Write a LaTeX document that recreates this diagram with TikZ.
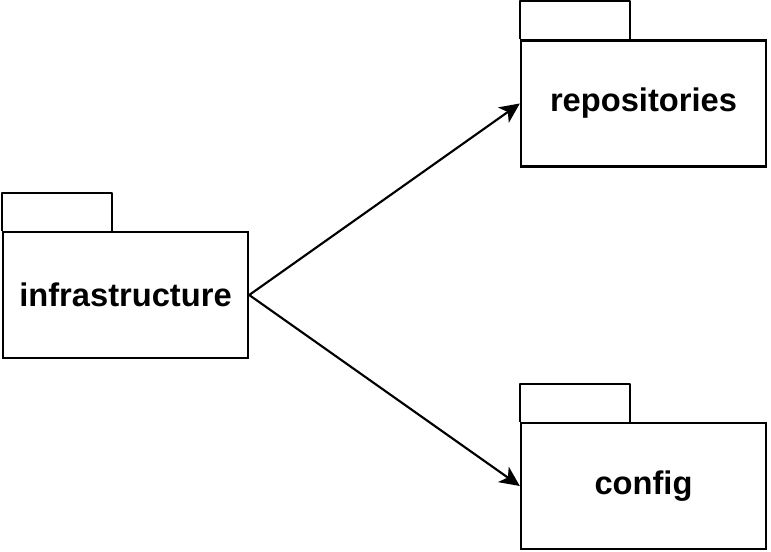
\documentclass[tikz,border=0pt]{standalone}
\usepackage{fontspec}
\setmainfont{Liberation Sans}
\usepackage{tikz}
\usetikzlibrary{arrows.meta}
\tikzset{pkg/.style={draw, line width=1.8pt, minimum width=183.75pt, minimum height=94.5pt, inner sep=0pt, font=\fontsize{24.5}{28}\selectfont\bfseries}}

\begin{document}
\begin{tikzpicture}[x=0.75pt, y=-0.75pt]
			\useasboundingbox(0, 0) rectangle (771, 552);
			\node[pkg](infra)at(125.5, 295){infrastructure};
			\node[pkg](repos)at(643.5, 103.5){repositories};
			\node[pkg](config)at(643.5, 486){config};
			\foreach \n in {infra, repos, config}
				\draw[line width=1.8pt, line join=round](\n.north west)--++(0, 28.5pt)--++(82.5pt, 0)--++(0, -28.5pt);
			\draw[line width=1.6pt, -{Stealth[length=15pt, width=14pt, inset=4pt]}](infra.east)--(repos.west);
			\draw[line width=1.6pt, -{Stealth[length=15pt, width=14pt, inset=4pt]}](infra.east)--(config.west);
		\end{tikzpicture}
\end{document}
